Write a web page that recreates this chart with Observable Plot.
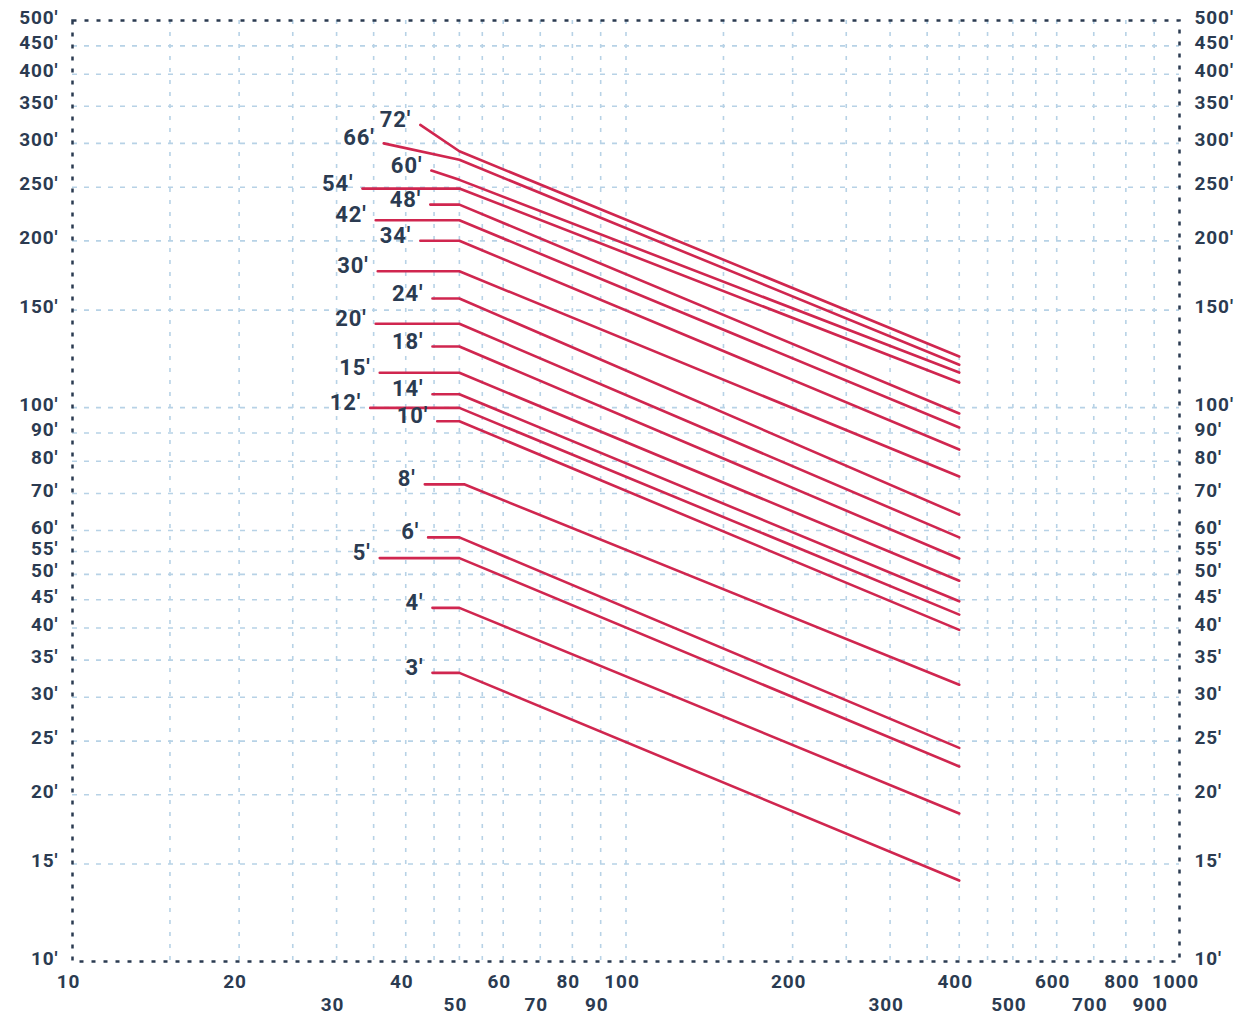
<!DOCTYPE html>
<html>
<head>
<meta charset="utf-8">
<script src="https://cdn.jsdelivr.net/npm/d3@7"></script>
<script src="https://cdn.jsdelivr.net/npm/@observablehq/plot@0.6"></script>
<style>
  html, body { margin: 0; padding: 0; background: #ffffff; }
  #chart { width: 1242px; height: 1018px; }
</style>
</head>
<body>
<div id="chart"></div>
<script>
// ---- Data ----
const sizes  = [72, 66, 60, 54, 48, 42, 34, 30, 24, 20, 18, 15, 14, 12, 10, 8, 6, 5, 4, 3];
const startX = [42.5, 36.5, 44.5, 33.4, 44.3, 35.3, 42.5, 35.6, 44.7, 35.3, 44.7, 35.9, 44.7, 34.5, 45.6, 43.3, 43.9, 35.9, 44.7, 44.7];
const startY = [324, 300, 267.9, 248.6, 232.6, 217.9, 200.1, 176.3, 157.4, 141.7, 128.9, 115.6, 105.7, 99.9, 94.5, 72.7, 58.3, 53.5, 43.5, 33.2];
const kneeX  = [50, 50, 50, 50, 50, 50, 50, 50, 50, 50, 50, 50, 50, 50, 50, 51, 50, 50, 50, 50];
const kneeY  = [290.3, 280.2, 257.8, 248.6, 232.6, 217.9, 200.1, 176.3, 157.4, 141.7, 128.9, 115.6, 105.7, 99.9, 94.5, 72.7, 58.3, 53.5, 43.5, 33.2];
const endX   = 400;
const endY   = [123.7, 119.5, 115.7, 111.0, 97.6, 92.1, 84.0, 75.1, 64.1, 58.3, 53.4, 48.7, 44.7, 42.3, 39.7, 31.6, 24.3, 22.5, 18.5, 14.0];

const yTicks = [10, 15, 20, 25, 30, 35, 40, 45, 50, 55, 60, 70, 80, 90, 100, 150, 200, 250, 300, 350, 400, 450, 500];
const yGrid  = [15, 20, 25, 30, 35, 40, 45, 50, 55, 60, 70, 80, 90, 100, 150, 200, 250, 300, 350, 400, 450];
const xGrid  = [15, 20, 25, 30, 35, 40, 45, 50, 55, 60, 70, 80, 90, 100, 150, 200, 250, 300, 350, 400, 450, 500, 550, 600, 700, 800, 900];
const xTicksRow1 = [10, 20, 40, 60, 80, 100, 200, 400, 600, 800, 1000];
const xTicksRow2 = [30, 50, 70, 90, 300, 500, 700, 900];

// ---- Build tables ----
const points = [];
sizes.forEach((s, i) => {
  points.push({size: s, x: startX[i], y: startY[i]});
  points.push({size: s, x: kneeX[i], y: kneeY[i]});
  points.push({size: s, x: endX, y: endY[i]});
});
const labels = sizes.map((s, i) => ({size: s, x: startX[i], y: startY[i]}));

const ink = "#2b3b51";
const red = "#d0264f";
const gridColor = "#b7d2e6";
const prime = "\u2032";

const chart = Plot.plot({
  width: 1242,
  height: 1018,
  marginLeft: 72,
  marginRight: 63,
  marginTop: 20,
  marginBottom: 57,
  x: {type: "log", domain: [10, 1000], axis: null},
  y: {type: "log", domain: [10, 500], axis: null},
  style: {fontFamily: "Roboto, 'Noto Sans', sans-serif", background: "#ffffff", overflow: "visible"},
  marks: [
    Plot.gridX(xGrid, {stroke: gridColor, strokeOpacity: 1, strokeWidth: 1.6, strokeDasharray: "4,8"}),
    Plot.gridY(yGrid, {stroke: gridColor, strokeOpacity: 1, strokeWidth: 1.6, strokeDasharray: "5,7"}),
    Plot.frame({stroke: ink, strokeWidth: 2.5, strokeDasharray: "4,8"}),
    Plot.line(points, {x: "x", y: "y", z: "size", stroke: red, strokeWidth: 2.6}),
    Plot.text(labels, {
      x: "x", y: "y", text: d => d.size + prime,
      textAnchor: "end", dx: -9, dy: -5,
      fontSize: 22, fontWeight: "bold", fill: ink
    }),
    // Y tick labels, left and right
    Plot.text(yTicks, {
      y: d => d, frameAnchor: "left", textAnchor: "end", dx: -14, dy: -3,
      text: d => d + prime, fontSize: 19, fontWeight: "bold", fill: ink
    }),
    Plot.text(yTicks, {
      y: d => d, frameAnchor: "right", textAnchor: "start", dx: 15, dy: -3,
      text: d => d + prime, fontSize: 19, fontWeight: "bold", fill: ink
    }),
    // X tick labels, two staggered rows
    Plot.text(xTicksRow1, {
      x: d => d, frameAnchor: "bottom", dy: 26, dx: -4,
      text: d => String(d), fontSize: 19, fontWeight: "bold", fill: ink
    }),
    Plot.text(xTicksRow2, {
      x: d => d, frameAnchor: "bottom", dy: 49, dx: -4,
      text: d => String(d), fontSize: 19, fontWeight: "bold", fill: ink
    })
  ]
});
chart.style.letterSpacing = "0.9px";
document.getElementById("chart").appendChild(chart);
</script>
</body>
</html>
